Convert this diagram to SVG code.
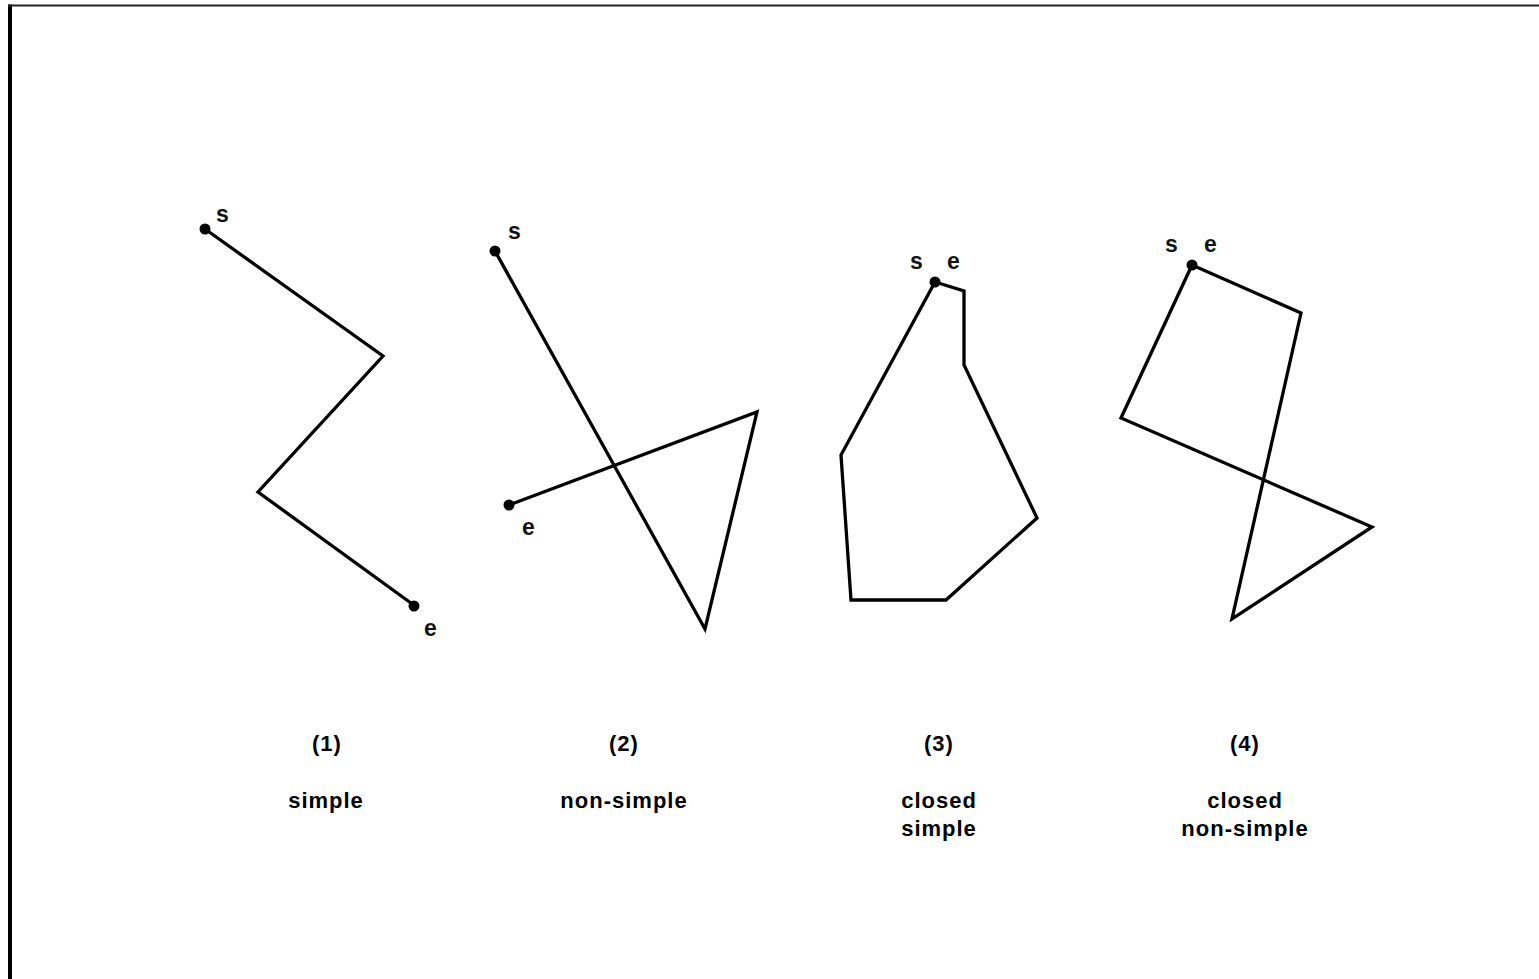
<svg xmlns="http://www.w3.org/2000/svg" width="1539" height="979" viewBox="0 0 1539 979">
<style>
.ln{fill:none;stroke:#000;stroke-width:3.3;stroke-linejoin:miter;stroke-linecap:butt}
.dot{fill:#000}
.pt{font-family:"Liberation Sans",Arial,sans-serif;font-weight:bold;font-size:23px;fill:#111}
.cap{font-family:"Liberation Sans",Arial,sans-serif;font-weight:bold;font-size:22px;fill:#000;text-anchor:middle;letter-spacing:1px}
</style>
<rect x="0" y="0" width="1539" height="979" fill="#fff"/>
<g id="frame">
<line x1="10" y1="4.5" x2="10" y2="979" stroke="#000" stroke-width="4"/>
<line x1="8" y1="5.5" x2="1539" y2="5.5" stroke="#222" stroke-width="2"/>
</g>
<g id="fig1">
<polyline class="ln" points="205,229 383,356 258,492 415,606"/>
<circle class="dot" cx="205" cy="229" r="5.5"/>
<circle class="dot" cx="414" cy="606" r="5.5"/>
<text class="pt" x="216" y="222">s</text>
<text class="pt" x="424" y="636">e</text>
<text class="cap" x="327" y="751">(1)</text>
<text class="cap" x="326" y="808">simple</text>
</g>
<g id="fig2">
<polyline class="ln" points="495,251 705,629 757,412 509,505"/>
<circle class="dot" cx="495" cy="251" r="5.5"/>
<circle class="dot" cx="509" cy="505" r="5.5"/>
<text class="pt" x="508" y="239">s</text>
<text class="pt" x="522" y="535">e</text>
<text class="cap" x="624" y="751">(2)</text>
<text class="cap" x="624" y="808">non-simple</text>
</g>
<g id="fig3">
<polygon class="ln" points="935,282 964,291 964,365 1037,518 946,600 851,600 841,455"/>
<circle class="dot" cx="935" cy="282" r="5.5"/>
<text class="pt" x="910" y="269">s</text>
<text class="pt" x="947" y="269">e</text>
<text class="cap" x="939" y="751">(3)</text>
<text class="cap" x="939" y="808">closed</text>
<text class="cap" x="939" y="836">simple</text>
</g>
<g id="fig4">
<polygon class="ln" points="1192,265 1301,313 1232,619 1372,527 1121,418"/>
<circle class="dot" cx="1192" cy="265" r="5.5"/>
<text class="pt" x="1165" y="252">s</text>
<text class="pt" x="1204" y="252">e</text>
<text class="cap" x="1245" y="751">(4)</text>
<text class="cap" x="1245" y="808">closed</text>
<text class="cap" x="1245" y="836">non-simple</text>
</g>
<g id="connectors"></g>
</svg>
